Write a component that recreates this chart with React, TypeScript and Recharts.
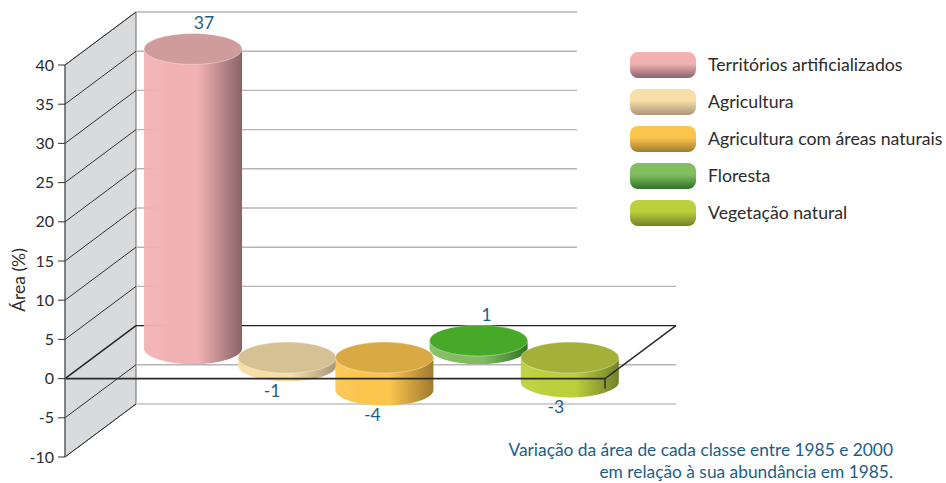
import React from 'react';
import {
  BarChart,
  Bar,
  XAxis,
  YAxis,
  CartesianGrid,
  ReferenceLine,
} from 'recharts';

const classes = [
  'Territórios artificializados',
  'Agricultura',
  'Agricultura com áreas naturais',
  'Floresta',
  'Vegetação natural',
];
const changes = [37, -1, -4, 1, -3];
const yTicks = [-10, -5, 0, 5, 10, 15, 20, 25, 30, 35, 40];
const noteLines = [
  'Variação da área de cada classe entre 1985 e 2000',
  'em relação à sua abundância em 1985.',
];

const bodyColors = ['#f2b2b4', '#f7dda6', '#fbc54e', '#82bd60', '#bccf3c'];
const edgeColors = ['#8a6366', '#a8977a', '#a07a2e', '#2f7124', '#72812a'];
const capColors = ['#cf9b9c', '#d6c194', '#d9a944', '#47a928', '#a4b03a'];

// hand nudges, the source cylinders are not evenly spaced
const barNudge = [0, 0, 3, 3, 0];
const labelNudge = [11, -15, -12, 8, -14];

const data = classes.map((name, i) => ({ name, value: changes[i] }));

const FONT = 'Lato, sans-serif';
const TEXT = '#2b2b2b';
const BLUE = '#1b5e86';

const PLOT_TOP = 65;
const PLOT_HEIGHT = 392;
// oblique projection of the back wall
const DEPTH_X = 71;
const DEPTH_Y = 53;
// cylinders stand part way into the floor
const BAR_DX = 40;
const BAR_RX = 49;
const BAR_RY = 15.5;
const STRETCH = 1.033;

const Cylinder = (props: any) => {
  const { x, y, width, height, index, payload } = props;
  const value = payload.value;
  const top = Math.min(y, y + height);
  const h = Math.abs(height) * STRETCH;
  const cx = x + width / 2 + BAR_DX + barNudge[index];
  const base = value >= 0 ? top + Math.abs(height) - 30 : top - 21;
  const y1 = value >= 0 ? base - h : base;
  const y2 = value >= 0 ? base : base + h;
  const labelY = value >= 0 ? y1 - 20 : y2 + 31;

  return (
    <g>
      <path
        d={`M${cx - BAR_RX} ${y1} L${cx - BAR_RX} ${y2} A${BAR_RX} ${BAR_RY} 0 0 0 ${cx + BAR_RX} ${y2} L${cx + BAR_RX} ${y1} Z`}
        fill={`url(#body-${index})`}
      />
      <ellipse
        cx={cx}
        cy={y1}
        rx={BAR_RX}
        ry={BAR_RY}
        fill={capColors[index]}
        stroke="rgba(255,255,255,0.35)"
      />
      <text
        x={cx + labelNudge[index]}
        y={labelY}
        textAnchor="middle"
        fontFamily={FONT}
        fontSize={17.5}
        fill={BLUE}
      >
        {value}
      </text>
    </g>
  );
};

// only the top row paints, the wall spans the whole plot height
const SideWall = ({ x1, y1 }: any) =>
  Math.abs(y1 - PLOT_TOP) < 1 ? (
    <polygon
      points={`${x1},${y1} ${x1 + DEPTH_X},${y1 - DEPTH_Y} ${x1 + DEPTH_X},${y1 + PLOT_HEIGHT - DEPTH_Y} ${x1},${y1 + PLOT_HEIGHT}`}
      fill="#d9dadc"
      stroke="#6b6b6b"
      strokeWidth={1}
    />
  ) : (
    <g />
  );

const GridRow = ({ x1, y1, x2 }: any) => {
  const backY = y1 - DEPTH_Y;
  // the upper rows stop short of the legend
  const end = y1 <= 301 ? x2 - 28 : x2 + DEPTH_X;
  const isLast = y1 > 450;
  const isFloor = Math.abs(y1 - (PLOT_TOP + PLOT_HEIGHT * 0.8)) < 1;
  const color = isFloor ? '#222' : isLast ? '#d0d0d0' : '#b5b5b5';
  return (
    <g>
      <line x1={x1 + DEPTH_X} y1={backY} x2={end} y2={backY} stroke={color} strokeWidth={isLast ? 2 : 1.4} />
      <line x1={x1} y1={y1} x2={x1 + DEPTH_X} y2={backY} stroke={isFloor ? '#222' : '#333'} strokeWidth={isFloor ? 1.4 : 1} />
    </g>
  );
};

const FloorFront = ({ x1, y1, x2 }: any) => (
  <g stroke="#2a2a2a" fill="none">
    <line x1={x1} y1={y1} x2={x2} y2={y1} strokeWidth={1.6} />
    <line x1={x2} y1={y1} x2={x2 + DEPTH_X} y2={y1 - DEPTH_Y} strokeWidth={1.4} />
    <line x1={x2} y1={y1} x2={x2} y2={y1 + 10} strokeWidth={1.4} />
  </g>
);

export default function App() {
  return (
    <div style={{ position: 'absolute', left: 0, top: 0, width: 946, height: 483, background: '#fff' }}>
      <BarChart
        width={946}
        height={483}
        data={data}
        margin={{ top: PLOT_TOP, right: 341, bottom: 483 - PLOT_TOP - PLOT_HEIGHT, left: 0 }}
        barCategoryGap={0}
      >
        <defs>
          {classes.map((name, i) => (
            <linearGradient key={name} id={`body-${i}`} x1="0" y1="0" x2="1" y2="0">
              <stop offset="0%" stopColor={bodyColors[i]} stopOpacity={0.92} />
              <stop offset="25%" stopColor={bodyColors[i]} />
              <stop offset="55%" stopColor={bodyColors[i]} />
              <stop offset="100%" stopColor={edgeColors[i]} />
            </linearGradient>
          ))}
        </defs>
        <XAxis dataKey="name" hide padding={{ left: 41, right: 28 }} />
        <YAxis
          width={65}
          domain={[-10, 40]}
          ticks={yTicks}
          interval={0}
          tickSize={7}
          tickMargin={4}
          axisLine={{ stroke: '#555' }}
          tickLine={{ stroke: '#333' }}
          tick={{ fill: TEXT, fontFamily: FONT, fontSize: 16 }}
          label={{
            value: 'Área (%)',
            angle: -90,
            position: 'insideLeft',
            offset: 19,
            dy: 19,
            style: { fill: TEXT, fontFamily: FONT, fontSize: 17.5, textAnchor: 'middle' },
          }}
        />
        <CartesianGrid vertical={false} horizontal={SideWall} />
        <CartesianGrid vertical={false} horizontal={GridRow} />
        <Bar dataKey="value" shape={Cylinder} isAnimationActive={false} />
        <ReferenceLine y={0} shape={FloorFront} />
      </BarChart>
      <div style={{ position: 'absolute', left: 630, top: 46, fontFamily: FONT, fontSize: 17.7, color: TEXT }}>
        {classes.map((name, i) => (
          <div key={name} style={{ display: 'flex', alignItems: 'center', height: 37 }}>
            <div
              style={{
                width: 66,
                height: 26,
                borderRadius: 8,
                marginRight: 12,
                background: `linear-gradient(${bodyColors[i]} 0%, ${bodyColors[i]} 45%, ${edgeColors[i]} 100%)`,
              }}
            />
            <span style={{ whiteSpace: 'nowrap' }}>{name}</span>
          </div>
        ))}
      </div>
      <div
        style={{
          position: 'absolute',
          right: 53,
          top: 442,
          textAlign: 'right',
          fontFamily: FONT,
          fontSize: 17.35,
          lineHeight: '16px',
          color: BLUE,
          whiteSpace: 'nowrap',
        }}
      >
        {noteLines.map((line, i) => (
          <div key={line} style={{ marginTop: i ? 6 : 0 }}>{line}</div>
        ))}
      </div>
    </div>
  );
}
